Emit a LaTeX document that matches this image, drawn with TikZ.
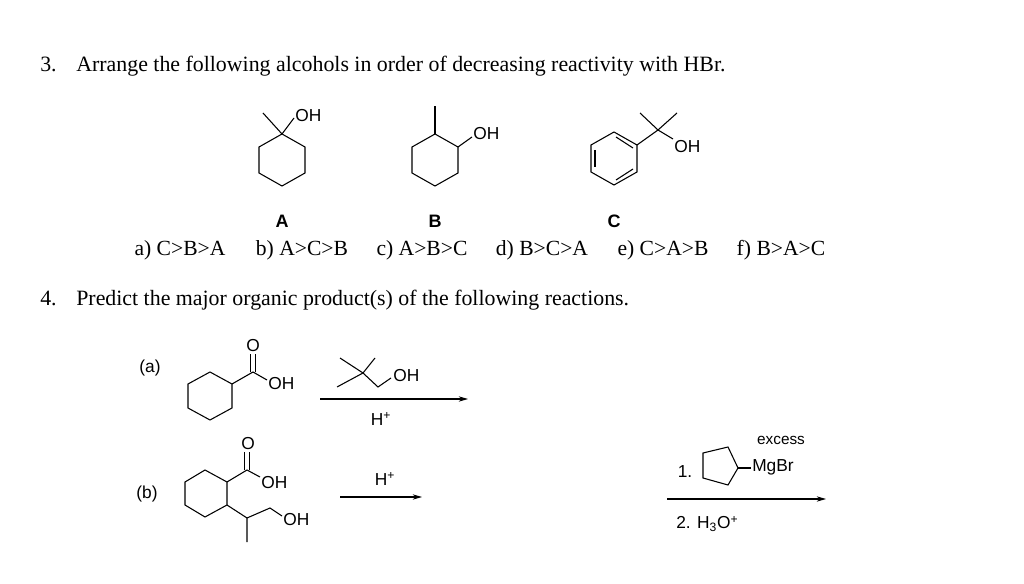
\documentclass[tikz,border=0pt]{standalone}
\usepackage{fontspec}
\setmainfont{Liberation Serif}
\newfontfamily\chemfont{Liberation Sans}
\usetikzlibrary{arrows.meta}
\tikzset{
  bond/.style={line width=0.8pt},
  lbl/.style={font=\chemfont\fontsize{13}{15}\selectfont, inner sep=0pt},
  cpd/.style={font=\chemfont\bfseries\fontsize{13.5}{15}\selectfont, inner sep=0pt},
  qtext/.style={font=\fontsize{16.4}{19}\selectfont, inner sep=0pt, anchor=west},
  ans/.style={font=\fontsize{16.2}{19}\selectfont, inner sep=0pt},
  rxn/.style={line width=0.8pt, -{Stealth[length=7pt,width=4pt]}}
}
\begin{document}
\begin{tikzpicture}[x=0.75pt,y=-0.75pt]
\useasboundingbox (0,0) rectangle (1024,584);
% question 3
\node[qtext] (q3) at (40,66) {3.\hspace{0.9em}Arrange the following alcohols in order of decreasing reactivity with HBr.};
% compound A
\foreach \n/\x/\y in {1/282/134,2/305/147,3/305/173,4/282/186,5/259/173,6/259/147}
  \coordinate (a\n) at (\x,\y);
\draw[bond] (a1) -- (a2) -- (a3) -- (a4) -- (a5) -- (a6) -- cycle;
\coordinate (ame) at (263,113);
\coordinate (aoh) at (294,118);
\draw[bond] (a1) -- (ame);
\draw[bond] (a1) -- (aoh);
\node[lbl, anchor=south west] (ohA) at (295,122) {OH};
% compound B
\foreach \n/\x/\y in {1/435/134,2/458/147,3/458/173,4/435/186,5/412/173,6/412/147}
  \coordinate (b\n) at (\x,\y);
\draw[bond] (b1) -- (b2) -- (b3) -- (b4) -- (b5) -- (b6) -- cycle;
\coordinate (bme) at (435,106);
\coordinate (boh) at (472,137);
\draw[bond] (b1) -- (bme);
\draw[bond] (b2) -- (boh);
\node[lbl, anchor=west] (ohB) at (473,134) {OH};
% compound C
\foreach \n/\x/\y in {1/614/132,2/637/145,3/637/172,5/591/172,6/591/145}
  \coordinate (c\n) at (\x,\y);
\coordinate (c4) at (614,185);
\draw[bond] (c1) -- (c2) -- (c3) -- (c4) -- (c5) -- (c6) -- cycle;
\draw[bond] (595,150) -- (595,167);
\draw[bond] (616,137) -- (633,148);
\draw[bond] (616,180) -- (633,169);
\coordinate (cq) at (658,130);
\coordinate (cm1) at (640,113);
\coordinate (cm2) at (677,113);
\coordinate (coh) at (673,139);
\draw[bond] (c2) -- (cq);
\draw[bond] (cq) -- (cm1);
\draw[bond] (cq) -- (cm2);
\draw[bond] (cq) -- (coh);
\node[lbl, anchor=west] (ohC) at (674,147) {OH};
\node[cpd] (lblA) at (282,221) {A};
\node[cpd] (lblB) at (435,221) {B};
\node[cpd] (lblC) at (614,221) {C};
% answers
\node[ans] (ansa) at (180,250) {a) C>B>A};
\node[ans] (ansb) at (302,250) {b) A>C>B};
\node[ans] (ansc) at (422,250) {c) A>B>C};
\node[ans] (ansd) at (542,250) {d) B>C>A};
\node[ans] (anse) at (663,250) {e) C>A>B};
\node[ans] (ansf) at (781,250) {f) B>A>C};
% question 4
\node[qtext] (q4) at (40,300) {4.\hspace{0.9em}Predict the major organic product(s) of the following reactions.};
% reaction (a)
\node[lbl] (parta) at (150,368) {(a)};
\foreach \n/\x/\y in {1/210/372,2/232/384,3/232/408,4/210/420,5/188/408,6/188/384}
  \coordinate (ra\n) at (\x,\y);
\draw[bond] (ra1) -- (ra2) -- (ra3) -- (ra4) -- (ra5) -- (ra6) -- cycle;
\coordinate (ca) at (253,372);
\coordinate (oa) at (253,354);
\coordinate (oha) at (267,380);
\draw[bond] (ra2) -- (ca) -- (oha);
\draw[bond] ([xshift=-1.8]ca) -- ([xshift=-1.8]oa);
\draw[bond] ([xshift=1.8]ca) -- ([xshift=1.8]oa);
\node[lbl] (oxa) at (253,346) {O};
\node[lbl, anchor=west] (ohla) at (268,384) {OH};
\coordinate (tq) at (363,373);
\coordinate (t1) at (340,358);
\coordinate (t2) at (375,358);
\coordinate (t3) at (337,387);
\coordinate (t4) at (378,387);
\coordinate (t5) at (391,378);
\draw[bond] (t1) -- (tq) -- (t2);
\draw[bond] (t3) -- (tq) -- (t4) -- (t5);
\node[lbl, anchor=west] (ohT) at (393,376) {OH};
\coordinate (arA1) at (320,399);
\coordinate (arA2) at (468,399);
\draw[rxn] (arA1) -- (arA2);
\node[lbl] (hA) at (381,419) {H\textsuperscript{+}};
% reaction (b)
\node[lbl] (partb) at (147,494) {(b)};
\foreach \n/\x/\y in {1/205/470,2/227/482,3/227/505,5/185/505,6/185/482}
  \coordinate (rb\n) at (\x,\y);
\coordinate (rb4) at (205,517);
\draw[bond] (rb1) -- (rb2) -- (rb3) -- (rb4) -- (rb5) -- (rb6) -- cycle;
\coordinate (cb) at (247,470);
\coordinate (ob) at (247,452);
\coordinate (ohb) at (260,477);
\draw[bond] (rb2) -- (cb) -- (ohb);
\draw[bond] ([xshift=-1.8]cb) -- ([xshift=-1.8]ob);
\draw[bond] ([xshift=1.8]cb) -- ([xshift=1.8]ob);
\node[lbl] (oxb) at (248,444) {O};
\node[lbl, anchor=west] (ohlb) at (261,483) {OH};
\coordinate (sb) at (247,518);
\coordinate (sm) at (247,542);
\coordinate (sc) at (270,508);
\coordinate (so) at (282,516);
\draw[bond] (rb3) -- (sb) -- (sm);
\draw[bond] (sb) -- (sc) -- (so);
\node[lbl, anchor=west] (ohS) at (283,520) {OH};
\coordinate (arB1) at (340,497);
\coordinate (arB2) at (422,497);
\draw[rxn] (arB1) -- (arB2);
\node[lbl] (hB) at (385,479) {H\textsuperscript{+}};
% grignard
\node[lbl, font=\chemfont\fontsize{11.5}{13}\selectfont] (exc) at (781,440) {excess};
\node[lbl] (one) at (685,472) {1.};
\foreach \n/\x/\y in {1/738/468,2/728/447,3/703/453,4/703/478}
  \coordinate (p\n) at (\x,\y);
\coordinate (p5) at (728,485);
\draw[bond] (p1) -- (p2) -- (p3) -- (p4) -- (p5) -- cycle;
\coordinate (pmg) at (751,468);
\draw[bond] (p1) -- (pmg);
\node[lbl, anchor=west] (mgbr) at (752,467) {MgBr};
\coordinate (arC1) at (667,499);
\coordinate (arC2) at (826,499);
\draw[rxn] (arC1) -- (arC2);
\node[lbl, anchor=west] (two) at (676,524) {2. H\textsubscript{3}O\textsuperscript{+}};
\end{tikzpicture}
\end{document}
